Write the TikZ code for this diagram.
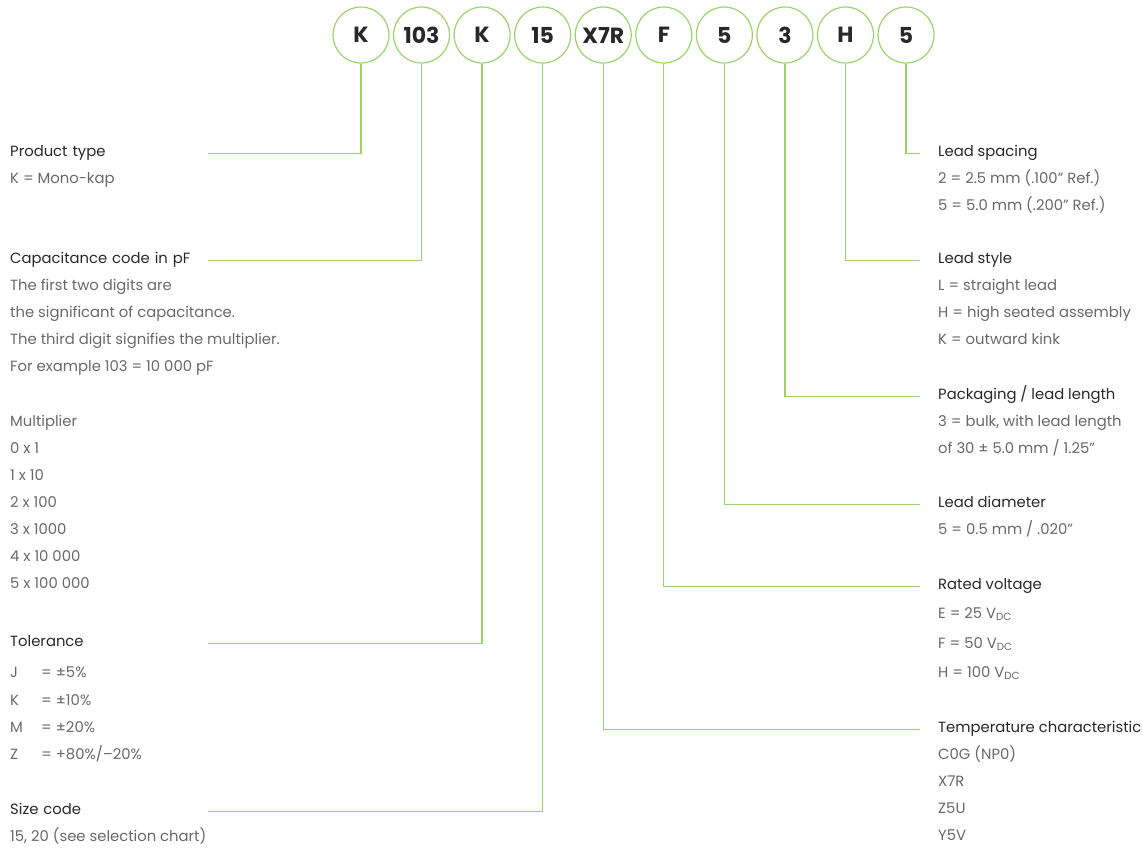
\documentclass[tikz,border=0pt]{standalone}
\usepackage{fontspec}
\setmainfont{Poppins}
\usepackage{tikz}
\usetikzlibrary{positioning}

\definecolor{leadgreen}{RGB}{155,210,110}
\definecolor{headgray}{RGB}{40,40,40}
\definecolor{bodygray}{RGB}{105,105,105}

\tikzset{
  code/.style={circle, draw=leadgreen, line width=1.2pt, minimum size=56pt, inner sep=0pt,
    text=headgray, font=\bfseries\fontsize{22}{22}\selectfont},
  lhead/.style={anchor=base west, inner sep=0pt, text width=198pt, text=headgray,
    font=\fontsize{14.8}{14.8}\selectfont},
  rhead/.style={anchor=base west, inner sep=0pt, text=headgray,
    font=\fontsize{14.8}{14.8}\selectfont},
  body/.style={anchor=base west, inner sep=0pt, text=bodygray,
    font=\fontsize{14.8}{14.8}\selectfont},
  lead/.style={draw=leadgreen, line width=1.3pt}
}

\begin{document}
\begin{tikzpicture}[x=1pt, y=-1pt, node distance=3.36pt]
		\useasboundingbox (0,0) rectangle (1143,847);

		% code circles
		\node(K)[code] at (361,35) {K};
		\node(C)[code, right=of K]{103};
		\node(T)[code, right=of C]{K};
		\node(S)[code, right=of T]{15};
		\node(X)[code, right=of S]{X7R};
		\node(V)[code, right=of X]{F};
		\node(D)[code, right=of V]{5};
		\node(P)[code, right=of D]{3};
		\node(H)[code, right=of P]{H};
		\node(L)[code, right=of H]{5};

		% left side
		\node(Kt)[lhead] at (10,156) {Product type};
		\node(Kb)[body] at (10,183) {K = Mono-kap};

		\node(Ct)[lhead] at (10,263) {Capacitance code in pF};
		\foreach \t [count=\i] in {The first two digits are, the significant of capacitance.,
			The third digit signifies the multiplier., For example 103 = 10 000 pF}
			\node(Cb\i)[body] at (10,263+27*\i) {\t};
		\foreach \t [count=\i] in {Multiplier, 0 x 1, 1 x 10, 2 x 100, 3 x 1000, 4 x 10 000, 5 x 100 000}
			\node(M\i)[body] at (10,399+27*\i) {\t};

		\node(Tt)[lhead] at (10,646) {Tolerance};
		\node(Tb1)[body] at (10,677) {\makebox[31pt][l]{J}= ±5\%};
		\node(Tb2)[body] at (10,705) {\makebox[31pt][l]{K}= ±10\%};
		\node(Tb3)[body] at (10,732) {\makebox[31pt][l]{M}= ±20\%};
		\node(Tb4)[body] at (10,759) {\makebox[31pt][l]{Z}= +80\%/–20\%};

		\node(St)[lhead] at (10,814) {Size code};
		\node(Sb)[body] at (10,841) {15, 20 (see selection chart)};

		% right side
		\node(Lt)[rhead] at (938,156) {Lead spacing};
		\node(Lb1)[body] at (938,183) {2 = 2.5 mm (.100" Ref.)};
		\node(Lb2)[body] at (938,210) {5 = 5.0 mm (.200" Ref.)};

		\node(Ht)[rhead] at (938,263) {Lead style};
		\foreach \t [count=\i] in {L = straight lead, H = high seated assembly, K = outward kink}
			\node(Hb\i)[body] at (938,263+27*\i) {\t};

		\node(Pt)[rhead] at (938,399) {Packaging / lead length};
		\node(Pb1)[body] at (938,426) {3 = bulk, with lead length};
		\node(Pb2)[body] at (938,453) {of 30 ± 5.0 mm / 1.25"};

		\node(Dt)[rhead] at (938,507) {Lead diameter};
		\node(Db)[body] at (938,534) {5 = 0.5 mm / .020"};

		\node(Vt)[rhead] at (938,589) {Rated voltage};
		\node(Vb1)[body] at (938,618) {E = 25 V\textsubscript{DC}};
		\node(Vb2)[body] at (938,648) {F = 50 V\textsubscript{DC}};
		\node(Vb3)[body] at (938,677) {H = 100 V\textsubscript{DC}};

		\node(Xt)[rhead] at (938,732) {Temperature characteristic};
		\foreach \t [count=\i] in {C0G (NP0), X7R, Z5U, Y5V}
			\node(Xb\i)[body] at (938,732+27*\i) {\t};

		% leads
		\draw[lead] (K.south) |- (Kt.mid east);
		\draw[lead] (C.south) |- (Ct.mid east);
		\draw[lead] (T.south) |- (Tt.mid east);
		\draw[lead] (S.south) |- (St.mid east);
		\draw[lead] (X.south) |- ([xshift=-18pt]Xt.mid west);
		\draw[lead] (V.south) |- ([xshift=-18pt]Vt.mid west);
		\draw[lead] (D.south) |- ([xshift=-18pt]Dt.mid west);
		\draw[lead] (P.south) |- ([xshift=-18pt]Pt.mid west);
		\draw[lead] (H.south) |- ([xshift=-18pt]Ht.mid west);
		\draw[lead] (L.south) |- ([xshift=-18pt]Lt.mid west);
	\end{tikzpicture}
\end{document}
